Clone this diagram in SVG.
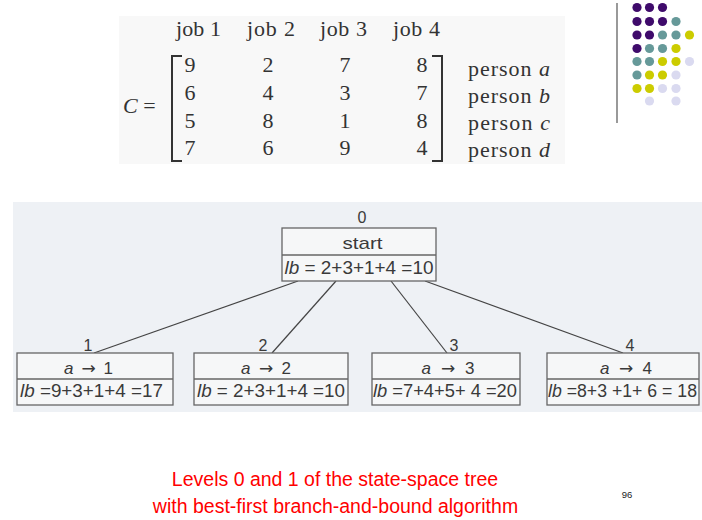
<svg xmlns="http://www.w3.org/2000/svg" width="702" height="520" viewBox="0 0 702 520">
<style>
.serif{font-family:"Liberation Serif","Times New Roman",serif;fill:#333;font-size:22px}
.sans{font-family:"Liberation Sans",Arial,sans-serif;fill:#3a3a3a}
.num{font-size:16px;text-anchor:middle}
.lbl{font-size:17px;text-anchor:middle}
.lb{font-size:18px;text-anchor:middle}
.arr{font-family:"DejaVu Sans",sans-serif}
.box{fill:#f6f7f8;stroke:#666;stroke-width:1.3}
.div{stroke:#666;stroke-width:1.3}
.edge{stroke:#444;stroke-width:1.2;fill:none}
.brk{stroke:#333;stroke-width:2;fill:none}
.cap{font-family:"Liberation Sans",Arial,sans-serif;fill:#ff0000;font-size:19.5px;text-anchor:middle}
.p{fill:#3f0b6b}.t{fill:#669999}.y{fill:#cccc00}.l{fill:#dadaf0}
</style>
<rect width="702" height="520" fill="#ffffff"/>

<g id="matrix">
<rect x="119" y="16" width="446" height="148" fill="#f8f8f8"/>
<text class="serif" x="176" y="36" textLength="45">job 1</text>
<text class="serif" x="247" y="36" textLength="48">job 2</text>
<text class="serif" x="320" y="36" textLength="47">job 3</text>
<text class="serif" x="393" y="36" textLength="47">job 4</text>
<text class="serif" x="123" y="113"><tspan font-style="italic">C</tspan> =</text>
<path class="brk" d="M182,56 H172 V161 H182"/>
<path class="brk" d="M432,56 H442 V161 H432"/>
<g text-anchor="middle" class="serif">
<text x="190" y="72">9</text><text x="268" y="72">2</text><text x="345" y="72">7</text><text x="422" y="72">8</text>
<text x="190" y="100">6</text><text x="268" y="100">4</text><text x="345" y="100">3</text><text x="422" y="100">7</text>
<text x="190" y="128">5</text><text x="268" y="128">8</text><text x="345" y="128">1</text><text x="422" y="128">8</text>
<text x="190" y="155">7</text><text x="268" y="155">6</text><text x="345" y="155">9</text><text x="422" y="155">4</text>
</g>
<text class="serif" x="468" y="76" textLength="82">person <tspan font-style="italic">a</tspan></text>
<text class="serif" x="468" y="103" textLength="82">person <tspan font-style="italic">b</tspan></text>
<text class="serif" x="468" y="130" textLength="82">person <tspan font-style="italic">c</tspan></text>
<text class="serif" x="468" y="157" textLength="82">person <tspan font-style="italic">d</tspan></text>
</g>

<g id="logo">
<line x1="617" y1="3" x2="617" y2="123" stroke="#808080" stroke-width="1.6"/>
<g>
<circle class="p" cx="637" cy="7.5" r="4.6"/><circle class="p" cx="649.5" cy="7.5" r="4.6"/><circle class="p" cx="662.5" cy="7.5" r="4.6"/>
<circle class="p" cx="637" cy="21.5" r="4.6"/><circle class="p" cx="649.5" cy="21.5" r="4.6"/><circle class="p" cx="662.5" cy="21.5" r="4.6"/><circle class="t" cx="676" cy="21.5" r="4.6"/>
<circle class="p" cx="637" cy="35" r="4.6"/><circle class="p" cx="649.5" cy="35" r="4.6"/><circle class="t" cx="662.5" cy="35" r="4.6"/><circle class="t" cx="676" cy="35" r="4.6"/><circle class="y" cx="689.5" cy="35" r="4.6"/>
<circle class="p" cx="637" cy="48.5" r="4.6"/><circle class="t" cx="649.5" cy="48.5" r="4.6"/><circle class="t" cx="662.5" cy="48.5" r="4.6"/><circle class="y" cx="676" cy="48.5" r="4.6"/>
<circle class="t" cx="637" cy="61.5" r="4.6"/><circle class="t" cx="649.5" cy="61.5" r="4.6"/><circle class="y" cx="662.5" cy="61.5" r="4.6"/><circle class="y" cx="676" cy="61.5" r="4.6"/><circle class="l" cx="689.5" cy="61.5" r="4.6"/>
<circle class="t" cx="637" cy="75" r="4.6"/><circle class="y" cx="649.5" cy="75" r="4.6"/><circle class="y" cx="662.5" cy="75" r="4.6"/><circle class="l" cx="676" cy="75" r="4.6"/>
<circle class="y" cx="637" cy="88.5" r="4.6"/><circle class="y" cx="649.5" cy="88.5" r="4.6"/><circle class="l" cx="662.5" cy="88.5" r="4.6"/><circle class="l" cx="676" cy="88.5" r="4.6"/>
<circle class="l" cx="649.5" cy="101" r="4.6"/><circle class="l" cx="676" cy="101" r="4.6"/>
</g>
</g>

<rect x="13" y="202" width="689" height="210" fill="#eef1f5"/>

<g id="connectors">
<line class="edge" x1="298" y1="281" x2="94" y2="353"/>
<line class="edge" x1="336" y1="281" x2="272" y2="353"/>
<line class="edge" x1="391" y1="281" x2="447" y2="353"/>
<line class="edge" x1="425" y1="281" x2="623" y2="353"/>
</g>

<g id="node0" class="sans">
<text class="num" x="362" y="223">0</text>
<rect class="box" x="282" y="228" width="154" height="53"/>
<line class="div" x1="282" y1="255" x2="436" y2="255"/>
<text class="lbl" x="362.5" y="249" textLength="40" lengthAdjust="spacingAndGlyphs">start</text>
<text class="lb" x="359" y="273.5" textLength="149" lengthAdjust="spacingAndGlyphs"><tspan font-style="italic">lb</tspan> = 2+3+1+4 =10</text>
</g>

<g id="node1" class="sans">
<text class="num" x="88" y="350.5">1</text>
<rect class="box" x="17" y="353" width="156" height="52"/>
<line class="div" x1="17" y1="379" x2="173" y2="379"/>
<text class="lbl" x="88.5" y="374" textLength="49" lengthAdjust="spacing"><tspan font-style="italic">a</tspan> <tspan class="arr">→</tspan> 1</text>
<text class="lb" x="91.5" y="396.5" textLength="143" lengthAdjust="spacingAndGlyphs"><tspan font-style="italic">lb</tspan> =9+3+1+4 =17</text>
</g>

<g id="node2" class="sans">
<text class="num" x="263" y="350.5">2</text>
<rect class="box" x="194" y="353" width="154" height="52"/>
<line class="div" x1="194" y1="379" x2="348" y2="379"/>
<text class="lbl" x="266" y="374" textLength="50" lengthAdjust="spacing"><tspan font-style="italic">a</tspan> <tspan class="arr">→</tspan> 2</text>
<text class="lb" x="271" y="396.5" textLength="148" lengthAdjust="spacingAndGlyphs"><tspan font-style="italic">lb</tspan> = 2+3+1+4 =10</text>
</g>

<g id="node3" class="sans">
<text class="num" x="454" y="350.5">3</text>
<rect class="box" x="372" y="353" width="148" height="52"/>
<line class="div" x1="372" y1="379" x2="520" y2="379"/>
<text class="lbl" x="448" y="374" textLength="53" lengthAdjust="spacing"><tspan font-style="italic">a</tspan> <tspan class="arr">→</tspan> 3</text>
<text class="lb" x="445" y="396.5" textLength="144" lengthAdjust="spacingAndGlyphs"><tspan font-style="italic">lb</tspan> =7+4+5+ 4 =20</text>
</g>

<g id="node4" class="sans">
<text class="num" x="630" y="350.5">4</text>
<rect class="box" x="547" y="353" width="152" height="52"/>
<line class="div" x1="547" y1="379" x2="699" y2="379"/>
<text class="lbl" x="626" y="374" textLength="52" lengthAdjust="spacing"><tspan font-style="italic">a</tspan> <tspan class="arr">→</tspan> 4</text>
<text class="lb" x="622.5" y="396.5" textLength="149" lengthAdjust="spacingAndGlyphs"><tspan font-style="italic">lb</tspan> =8+3 +1+ 6 = 18</text>
</g>

<g id="caption">
<text class="cap" x="335" y="486">Levels 0 and 1 of the state-space tree</text>
<text class="cap" x="335.5" y="513">with best-first branch-and-bound algorithm</text>
<text x="627" y="498" font-family="'Liberation Sans',Arial,sans-serif" font-size="9.5" fill="#222" text-anchor="middle">96</text>
</g>
</svg>
